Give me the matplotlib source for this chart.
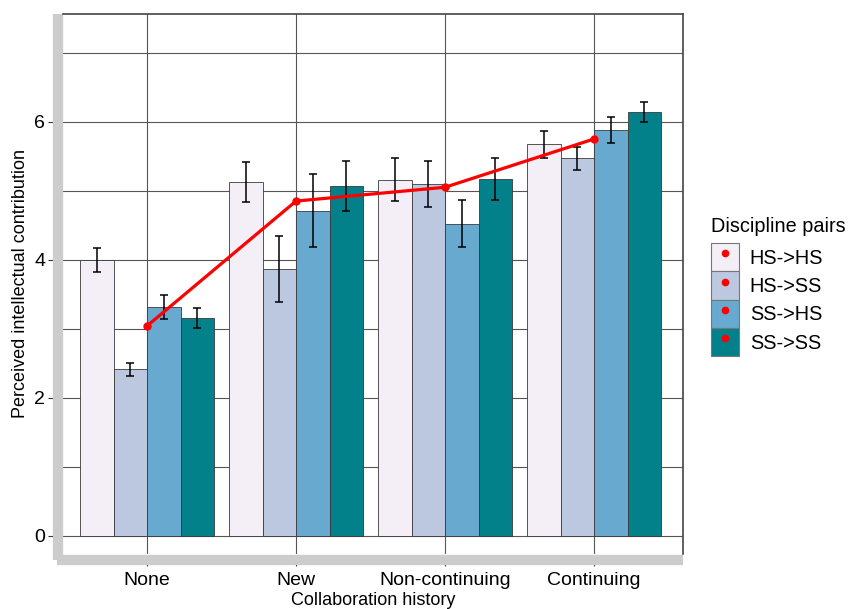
import matplotlib
matplotlib.use("Agg")
import matplotlib.pyplot as plt
import numpy as np
from matplotlib.patches import Patch
from matplotlib.lines import Line2D
from matplotlib.legend_handler import HandlerTuple

plt.rcParams['font.family'] = ['Liberation Sans', 'DejaVu Sans']

categories = ["None", "New", "Non-continuing", "Continuing"]
pairs = ["HS->HS", "HS->SS", "SS->HS", "SS->SS"]
means = {
    "HS->HS": [4.00, 5.12, 5.16, 5.67],
    "HS->SS": [2.41, 3.865, 5.10, 5.47],
    "SS->HS": [3.32, 4.71, 4.52, 5.88],
    "SS->SS": [3.155, 5.07, 5.17, 6.14],
}
errors = {
    "HS->HS": [0.175, 0.29, 0.31, 0.19],
    "HS->SS": [0.095, 0.485, 0.335, 0.17],
    "SS->HS": [0.175, 0.525, 0.34, 0.19],
    "SS->SS": [0.145, 0.365, 0.30, 0.14],
}
overall = [3.04, 4.85, 5.05, 5.75]
colors = ["#f4eef6", "#bcc8e0", "#67a9cf", "#02818a"]

W, H = 849, 609
fig = plt.figure(figsize=(W / 100, H / 100), dpi=100)
ax = fig.add_axes([63 / W, 1 - 554 / H, (683 - 63) / W, (554 - 14) / H])

x = np.arange(len(categories))
bw = 0.9 / len(pairs)
for i, p in enumerate(pairs):
    xs = x + (i - 1.5) * bw
    ax.bar(xs, means[p], width=bw, color=colors[i], edgecolor="#3a3a3a",
           linewidth=0.6, zorder=2)
    ax.errorbar(xs, means[p], yerr=errors[p], fmt="none", ecolor="black",
                elinewidth=1.1, capsize=3, capthick=1.1, zorder=3)

ax.plot(x, overall, color="red", linewidth=2.3, marker="o", markersize=5,
        zorder=4)

ax.set_xlim(-0.564, 3.597)
ax.set_ylim(-0.265, 7.561)
ax.set_xticks(x)
ax.set_xticklabels(categories)
ax.set_yticks([0, 2, 4, 6])
ax.set_yticks([1, 3, 5, 7], minor=True)
ax.tick_params(axis="y", which="major", labelsize=14, length=7, width=0.8,
               color="#333333", pad=2)
ax.tick_params(axis="y", which="minor", length=0)
ax.tick_params(axis="x", which="major", labelsize=14, length=4, width=0.8,
               color="#333333", pad=5)

ax.grid(True, which="both", axis="y", color="#555555", linewidth=0.8, zorder=0)
ax.grid(True, which="major", axis="x", color="#555555", linewidth=0.8, zorder=0)
ax.set_axisbelow(True)

for s in ["left", "bottom"]:
    ax.spines[s].set_color("#cccccc")
    ax.spines[s].set_linewidth(7.4)
    ax.spines[s].set_capstyle("butt")
ax.spines["left"].set_position(("outward", 3.8))
ax.spines["bottom"].set_position(("outward", 4.0))
ax.spines["left"].set_bounds(-0.35, 7.561)
ax.spines["bottom"].set_bounds(-0.604, 3.597)
for s in ["top", "right"]:
    ax.spines[s].set_color("#444444")
    ax.spines[s].set_linewidth(1.2)

ax.set_xlabel("Collaboration history", fontsize=13, labelpad=2)
ax.set_ylabel("Perceived intellectual contribution", fontsize=13, labelpad=4)

handles = [
    (Patch(facecolor=colors[i], edgecolor="#777777", linewidth=0.8),
     Line2D([], [], color="red", marker="o", markersize=4.5, linestyle="none"))
    for i in range(len(pairs))
]
leg = fig.legend(handles, pairs, loc="upper left",
                 bbox_to_anchor=(711 / W, 1 - 217 / H), borderpad=0,
                 borderaxespad=0,
                 frameon=False, fontsize=14.3, title="Discipline pairs",
                 title_fontsize=14.3, handlelength=1.4, handleheight=1.82,
                 labelspacing=0.0, handletextpad=0.55,
                 handler_map={tuple: HandlerTuple(ndivide=1)})
leg._legend_box.align = "left"
leg._legend_box.sep = 5

fig.savefig("out.png", dpi=100)
